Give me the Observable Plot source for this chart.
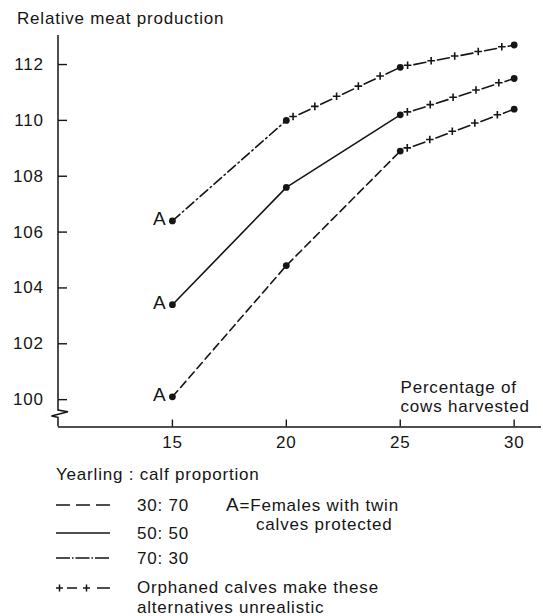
<!DOCTYPE html>
<html>
<head>
<meta charset="utf-8">
<script src="https://cdn.jsdelivr.net/npm/d3@7"></script>
<script src="https://cdn.jsdelivr.net/npm/@observablehq/plot@0.6"></script>
<style>
  html, body { margin: 0; padding: 0; background: #fff; }
  #page { width: 543px; font-family: "Liberation Sans", Arial, sans-serif; color: #151515; }
  #page svg { display: block; }
  #page svg text { letter-spacing: 0.8px; }
</style>
</head>
<body>
<div id="page"></div>
<script>
// ---------- data ----------
const harvest = [15, 20, 25, 30];                 // percentage of cows harvested
const ratios = ["30:70", "50:50", "70:30"];       // yearling : calf proportion
const prod3070 = [100.1, 104.8, 108.9, 110.4];
const prod5050 = [103.4, 107.6, 110.2, 111.5];
const prod7030 = [106.4, 110.0, 111.9, 112.7];
const unrealisticFrom = [25, 25, 20];             // from this harvest % orphaned calves make it unrealistic
const yTicks = [100, 102, 104, 106, 108, 110, 112];
const xTicks = [15, 20, 25, 30];
const protectedMark = "A";
const yTitle = "Relative meat production";
const xTitle = "Percentage of\ncows harvested";
const legendTitle = "Yearling : calf proportion";
const legendRatioLabels = ["30: 70", "50: 50", "70: 30"];
const legendA = ["A", "=Females with twin", "calves protected"];
const legendOrphan = ["Orphaned calves make these", "alternatives unrealistic"];

// ---------- styles ----------
const ink = "#151515";
const dashes = {"30:70": "8 4.5", "50:50": null, "70:30": "10 3.5 1.5 3.5"};

const series = [prod3070, prod5050, prod7030];
const rows = ratios.flatMap((r, i) => harvest.map((h, j) => ({ratio: r, harvest: h, prod: series[i][j], from: unrealisticFrom[i]})));
const realistic = rows.filter(d => d.harvest <= d.from);
const segs = [];
ratios.forEach((r, i) => {
  const pts = rows.filter(d => d.ratio === r && d.harvest >= d.from);
  for (let k = 0; k < pts.length - 1; k++) {
    segs.push({...pts[k], seg: r + "-" + k});
    segs.push({...pts[k + 1], seg: r + "-" + k});
  }
});

const page = document.getElementById("page");

// header (y title)
const head = d3.create("svg").attr("width", 543).attr("height", 30);
head.append("text").attr("x", 17).attr("y", 24).attr("font-size", 17).attr("fill", ink)
  .attr("font-family", "Liberation Sans, Arial, sans-serif").text(yTitle);
page.appendChild(head.node());

// y axis line with break
function yAxisLine(index, scales, values, dimensions) {
  const {marginLeft, marginTop, height, marginBottom} = dimensions;
  const x0 = marginLeft, yb = height - marginBottom;
  return d3.create("svg:path")
    .attr("fill", "none").attr("stroke", ink).attr("stroke-width", 1.5)
    .attr("d", `M${x0},${marginTop}V${yb - 16.5}L${x0 + 10},${yb - 14.8}L${x0 - 6.5},${yb - 10.5}L${x0},${yb - 9.2}V${yb}`)
    .node();
}

// crosses along "orphaned calves" segments
function crosses(index, scales) {
  const g = d3.create("svg:g").attr("stroke", ink).attr("stroke-width", 1.6).attr("fill", "none");
  const bySeg = d3.group(segs, d => d.seg);
  for (const [, pts] of bySeg) {
    const [a, b] = pts;
    const x0 = scales.x(a.harvest), y0 = scales.y(a.prod);
    const x1 = scales.x(b.harvest), y1 = scales.y(b.prod);
    const L = Math.hypot(x1 - x0, y1 - y0);
    for (let s = 8; s <= L - 5; s += 24) {
      const t = s / L, cx = x0 + t * (x1 - x0), cy = y0 + t * (y1 - y0);
      g.append("path").attr("d", `M${cx - 3.8},${cy}h7.6M${cx},${cy - 3.8}v7.6`);
    }
  }
  return g.node();
}

const chart = Plot.plot({
  width: 543,
  height: 425,
  marginLeft: 58,
  marginRight: 2,
  marginTop: 5,
  marginBottom: 28.5,
  style: {fontFamily: "Liberation Sans, Arial, sans-serif", fontSize: "17px", color: ink, background: "#fff"},
  x: {domain: [10, 31.2]},
  y: {domain: [99.02, 113.04]},
  marks: [
    Plot.axisY(yTicks, {tickSize: -9, tickPadding: 23.7, label: null, fontSize: 17, strokeWidth: 1.4}),
    Plot.axisX(xTicks, {tickSize: -7, tickPadding: 15.5, label: null, fontSize: 17, strokeWidth: 1.4}),
    Plot.ruleY([99.02], {stroke: ink, strokeWidth: 1.5}),
    yAxisLine,
    ...ratios.map(r => Plot.line(realistic.filter(d => d.ratio === r), {
      x: "harvest", y: "prod", stroke: ink, strokeWidth: 1.6, strokeDasharray: dashes[r]
    })),
    Plot.line(segs, {x: "harvest", y: "prod", z: "seg", stroke: ink, strokeWidth: 1.6, strokeDasharray: "12 12", strokeDashoffset: 10}),
    crosses,
    Plot.dot(rows, {x: "harvest", y: "prod", r: 3.4, fill: ink, stroke: null}),
    Plot.text(rows.filter(d => d.harvest === harvest[0]), {
      x: "harvest", y: "prod", text: () => protectedMark, textAnchor: "end", lineAnchor: "bottom",
      dx: -6, dy: 4.5, fontSize: 19, fill: ink
    }),
    Plot.text([xTitle], {
      text: d => d, frameAnchor: "bottom-right", textAnchor: "start", lineAnchor: "bottom",
      dx: -141, dy: -15, lineHeight: 1.1, fontSize: 17, fill: ink
    })
  ]
});
page.appendChild(chart);

// legend
const lg = d3.create("svg").attr("width", 543).attr("height", 161)
  .attr("font-family", "Liberation Sans, Arial, sans-serif").attr("font-size", 17).attr("fill", ink);
lg.append("text").attr("x", 56).attr("y", 25).text(legendTitle);
const rowY = [50, 78, 103];
const rowDash = ["14 6", null, "14 2 1.5 2"];
rowY.forEach((y, i) => {
  lg.append("line").attr("x1", 56).attr("x2", 110).attr("y1", y).attr("y2", y)
    .attr("stroke", ink).attr("stroke-width", 1.6).attr("stroke-dasharray", rowDash[i]);
  lg.append("text").attr("x", 137).attr("y", y + 6).text(legendRatioLabels[i]);
});
const aText = lg.append("text").attr("x", 226).attr("y", 56);
aText.append("tspan").attr("font-size", 19).text(legendA[0]);
aText.append("tspan").text(legendA[1]);
lg.append("text").attr("x", 256).attr("y", 75).text(legendA[2]);
// +-+- sample
const py = 133;
lg.append("path").attr("stroke", ink).attr("stroke-width", 1.5).attr("fill", "none")
  .attr("d", `M56,${py}h7M59.5,${py - 3.5}v7M67,${py}h10M83,${py}h7M86.5,${py - 3.5}v7M97,${py}h13`);
lg.append("text").attr("x", 137).attr("y", 138).text(legendOrphan[0]);
lg.append("text").attr("x", 137).attr("y", 158).text(legendOrphan[1]);
page.appendChild(lg.node());
</script>
</body>
</html>
